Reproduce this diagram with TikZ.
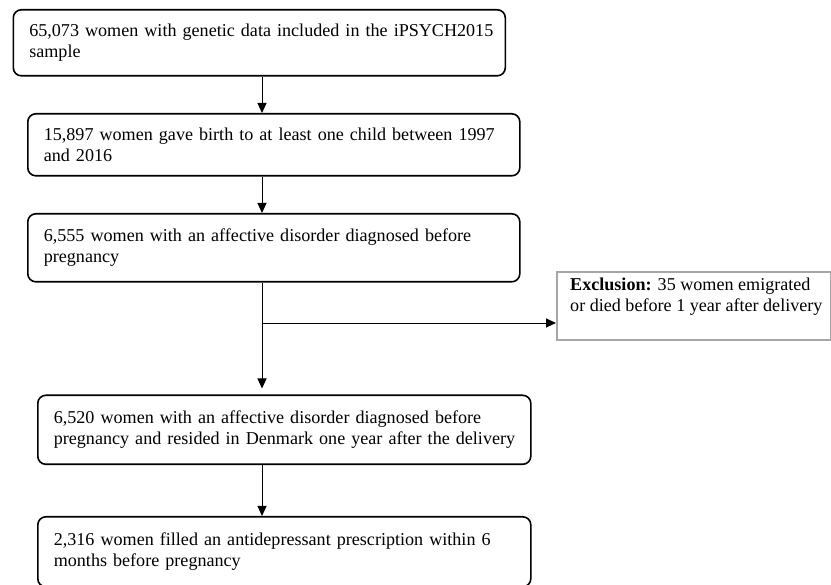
\documentclass[tikz,border=0pt]{standalone}
\usepackage{fontspec}
\setmainfont{Liberation Serif}
\usepackage{tikz}
\usetikzlibrary{arrows.meta, calc}

\tikzset{
    stepbox/.style={draw, line width=1.6pt, rounded corners=8pt, anchor=north west,
        align=left, inner xsep=16pt, inner ysep=0pt, font=\fontsize{18.1}{21}\selectfont},
    exclbox/.style={draw=black!35, line width=1.8pt, anchor=north west, inner sep=0pt},
    arr/.style={-{Triangle[length=10pt, width=9pt]}, line width=0.9pt}
}

\begin{document}
\begin{tikzpicture}[x=1pt, y=-1pt]
            \useasboundingbox (0, 0) rectangle (831, 585);
            \node[stepbox, text width=460pt, minimum height=66pt] (total) at (12.5, 9) {\mbox{65,073 women with genetic data included in the iPSYCH2015}\\ sample};
            \node[stepbox, text width=460pt, minimum height=62pt] (birth) at (27, 113) {\mbox{15,897 women gave birth to at least one child between 1997}\\ and 2016};
            \node[stepbox, text width=460pt, minimum height=68pt] (affect) at (27, 213) {6,555 women with an affective disorder diagnosed before\\ pregnancy};
            \node[stepbox, text width=461pt, minimum height=69pt] (resided) at (37, 394.5) {6,520 women with an affective disorder diagnosed before\\ \mbox{pregnancy and resided in Denmark one year after the delivery}};
            \node[stepbox, text width=461pt, minimum height=70pt] (filled) at (37, 516) {2,316 women filled an antidepressant prescription within 6\\ months before pregnancy};
            \node[exclbox, minimum width=274pt, minimum height=68pt] (excl) at (556, 271) {};
            \node[anchor=north west, align=left, inner sep=0pt, font=\fontsize{18.1}{21}\selectfont] (excltext) at (570, 278) {\textbf{Exclusion:} 35 women emigrated\\ or died before 1 year after delivery};
            \coordinate (spine) at (262, 0);
            \coordinate (split) at (262, 323);
            \draw[arr] (total.south -| spine) -- (birth.north -| spine);
            \draw[arr] (birth.south -| spine) -- (affect.north -| spine);
            \draw[arr, shorten >=6pt] (affect.south -| spine) -- (resided.north -| spine);
            \draw[arr] (split) -- (excl.west |- split);
            \draw[arr] (resided.south -| spine) -- (filled.north -| spine);
        \end{tikzpicture}
\end{document}
